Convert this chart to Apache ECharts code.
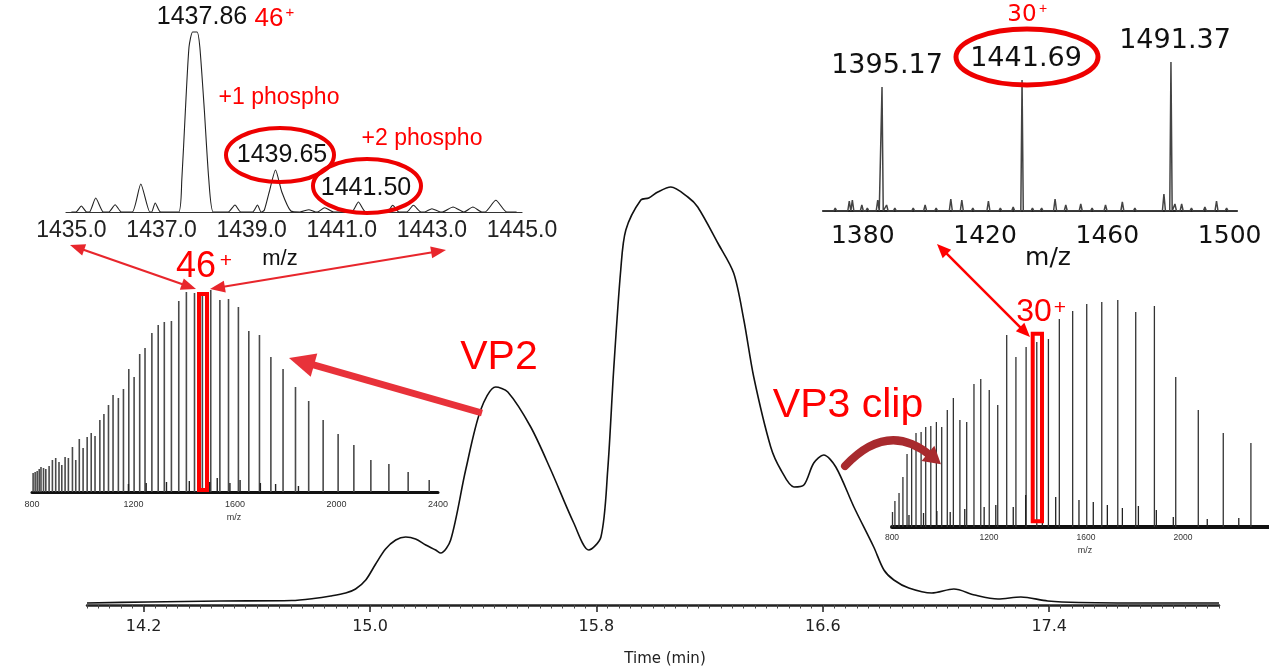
<!DOCTYPE html>
<html><head><meta charset="utf-8">
<script src="https://cdn.jsdelivr.net/npm/echarts@6/dist/echarts.min.js"></script>
<style>html,body{margin:0;padding:0;background:#fff}#c{width:1269px;height:666px}</style>
</head><body><div id="c"></div>
<script>
// ---------- Chromatogram (TIC) ----------
const timeMin = [14.00,14.214,14.472,14.723,14.801,14.861,14.914,14.949,14.985,15.020,15.055,15.091,15.126,15.161,15.197,15.232,15.250,15.285,15.338,15.391,15.444,15.487,15.568,15.639,15.720,15.773,15.816,15.840,15.861,15.886,15.904,15.957,15.985,16.017,16.063,16.123,16.158,16.229,16.285,16.321,16.356,16.416,16.452,16.498,16.533,16.568,16.603,16.646,16.710,16.780,16.816,16.851,16.904,16.985,17.063,17.137,17.219,17.300,17.395,17.505,17.830,18.00];
const ticSignal = [2,3,4,4.5,6.5,9,12,16,25,41,56,65,68,66,60,55,52,65,135,195,218,213,178,135,82,55,68,135,235,335,375,405,407,413,418,408,398,362,332,285,228,158,135,118,120,142,150,138,98,58,35,25,17,12,16,10,6,8,4,2.5,2,2];
const timeTicks = [14.2, 15.0, 15.8, 16.6, 17.4];

// ---------- Zoom of 46+ charge state (profile) ----------
const zoom46Mz = [1435.00,1435.10,1435.22,1435.34,1435.40,1435.54,1435.71,1435.83,1435.97,1436.11,1436.35,1436.54,1436.74,1436.78,1436.86,1436.98,1437.38,1437.45,1437.53,1437.61,1437.69,1437.79,1437.85,1437.95,1438.05,1438.15,1438.48,1438.63,1438.76,1439.02,1439.13,1439.21,1439.28,1439.39,1439.53,1439.67,1439.87,1440.07,1440.27,1440.42,1440.46,1440.62,1440.82,1441.22,1441.37,1441.53,1442.01,1442.13,1442.27,1442.44,1442.59,1442.76,1442.84,1443.00,1443.19,1443.23,1443.47,1443.71,1443.91,1444.11,1444.18,1444.42,1444.66,1444.88];
const zoom46Int = [0,0,6,0,0,14,0,0,7.3,0,0,28,0,0,9,0,0,32,102,165,180,180,165,102,32,0,0,7,0,0,7,0,1.7,20,42,20,1,0,2.3,0,0,4.3,0,0,10,0,0,6.7,0,0,6.7,0,0,3.3,0,0,5,0,5,0,0,11.7,0,0];
const zoom46Ticks = [1435, 1437, 1439, 1441, 1443, 1445];

// ---------- VP2 full mass spectrum ----------
const vp2Mz = [804,812,820,828,835,845,854,867,880,893,906,917,930,943,959,972,986,1001,1017,1033,1048,1067,1083,1101,1119,1140,1160,1181,1202,1224,1245,1272,1297,1321,1349,1378,1408,1440,1471,1504,1540,1574,1613,1654,1696,1741,1789,1838,1890,1947,2006,2068,2135,2206,2282,2365];
const vp2Int = [19,20,21,23,25,24,23,26,32,34,30,27,35,34,45,32,53,44,55,59,56,72,78,87,97,94,103,123,115,138,144,159,167,170,171,191,200,199,200,202,192,193,185,161,157,135,123,105,91,72,58,47,32,28,20,12];
const vp2MinorMz = [1180,1250,1330,1420,1460,1500,1530,1580,1620,1700,1760,1850];
const vp2MinorInt = [8,9,10,11,12,10,14,9,12,9,8,6];

// ---------- VP3 clip full mass spectrum ----------
const vp3Mz = [802,812,829,845,862,881,899,920,939,960,983,1005,1028,1053,1080,1108,1138,1166,1201,1236,1273,1311,1353,1397,1445,1490,1545,1603,1665,1731,1805,1882,1970,2063,2166,2280];
const vp3Int = [15,26,34,50,73,79,94,95,100,101,105,100,117,129,107,105,143,148,137,122,192,170,180,185,188,208,216,223,225,227,215,221,150,117,94,84];
const vp3MinorMz = [870,930,985,1040,1100,1180,1228,1300,1351,1420,1475,1571,1630,1688,1750,1816,1890,1960,2100,2230];
const vp3MinorInt = [12,14,16,15,18,20,22,20,32,24,30,27,25,22,19,21,17,10,8,9];

// ---------- Zoom of 30+ region ----------
const zoom30PeakMz = [1386.3, 1432.1, 1480.8];
const zoom30PeakInt = [124, 131, 149];
const zoom30NoiseMz = [1368.5,1371.0,1373.2,1375.6,1376.6,1379.7,1381.5,1384.9,1387.8,1390.5,1393.0,1396.5,1400.4,1404.0,1408.8,1412.4,1416.0,1421.1,1425.0,1429.2,1435.5,1438.5,1442.9,1446.4,1451.3,1455.0,1459.4,1464.9,1469.0,1473.5,1478.5,1482.1,1484.3,1487.5,1491.9,1495.7,1499.0];
const zoom30NoiseInt = [2,3,2,10,11,6,3,11,6,3,2,3,6,3,12,11,3,10,3,4,3,3,12,6,7,3,6,9,3,2,17,7,7,3,4,10,3];
const zoom30Ticks = [1380, 1420, 1460, 1500];

// ---------- build series data ----------
const zip = (a, b) => a.map((v, i) => [v, b[i]]);
function sticks(groups, min, max) {
  const pts = [];
  groups.forEach(g => g.mz.forEach((m, i) => pts.push([m, g.int[i], g.hw])));
  pts.sort((a, b) => a[0] - b[0]);
  const out = [[min, 0]];
  pts.forEach(p => { out.push([p[0] - p[2], 0], [p[0], p[1]], [p[0] + p[2], 0]); });
  out.push([max, 0]);
  return out;
}
const zoom30Data = sticks([
  {mz: zoom30PeakMz, int: zoom30PeakInt, hw: 0.4},
  {mz: zoom30NoiseMz, int: zoom30NoiseInt, hw: 0.5}
], 1367, 1502.4);

// ---------- annotations ----------
const RED = '#ff0000';
function txt(x, y, s, font, color) {
  return {type: 'text', x: x, y: y, z: 100, silent: true,
    style: {text: s, font: font, fill: color, align: 'center', verticalAlign: 'middle',
            textAlign: 'center', textVerticalAlign: 'middle'}};
}
function arrow(x1, y1, x2, y2, w, hl, hw, color, both) {
  const dx = x2 - x1, dy = y2 - y1, L = Math.hypot(dx, dy), ux = dx / L, uy = dy / L;
  const head = (tx, ty, ax, ay) => ({type: 'polygon', z: 100, silent: true,
    shape: {points: [[tx, ty], [tx - ax * hl - ay * hw, ty - ay * hl + ax * hw], [tx - ax * hl + ay * hw, ty - ay * hl - ax * hw]]},
    style: {fill: color}});
  const sx = both ? x1 + ux * hl * 0.7 : x1, sy = both ? y1 + uy * hl * 0.7 : y1;
  const els = [{type: 'line', z: 100, silent: true,
    shape: {x1: sx, y1: sy, x2: x2 - ux * hl * 0.7, y2: y2 - uy * hl * 0.7},
    style: {stroke: color, lineWidth: w}}, head(x2, y2, ux, uy)];
  if (both) els.push(head(x1, y1, -ux, -uy));
  return els;
}
const ell = (cx, cy, rx, ry, w) => ({type: 'ellipse', z: 100, silent: true,
  shape: {cx, cy, rx, ry}, style: {fill: null, stroke: '#ee0000', lineWidth: w}});
const box = (x, y, w, h) => ({type: 'rect', z: 100, silent: true,
  shape: {x, y, width: w, height: h}, style: {fill: null, stroke: RED, lineWidth: 4}});

const AR = '"Liberation Sans", Arial, sans-serif';
const DV = '"DejaVu Sans", sans-serif';
// curved arrow (VP3 clip)
const cP0 = [845, 466], cP1 = [888, 420], cP2 = [931, 456];
const cdx = cP2[0] - cP1[0], cdy = cP2[1] - cP1[1], cL = Math.hypot(cdx, cdy);
const cux = cdx / cL, cuy = cdy / cL;
const cTip = [cP2[0] + cux * 13, cP2[1] + cuy * 13];

const graphics = [
  // top-left zoom labels
  txt(202, 17, '1437.86', '25px ' + AR, '#111'),
  txt(269, 19, '46', '26px ' + AR, RED),
  txt(290, 13, '+', '15px ' + AR, RED),
  txt(279, 98, '+1 phospho', '23px ' + AR, RED),
  txt(422, 139, '+2 phospho', '23px ' + AR, RED),
  txt(282, 155, '1439.65', '25px ' + AR, '#111'),
  txt(366, 188, '1441.50', '25px ' + AR, '#111'),
  ell(280, 155, 54, 27, 4),
  ell(367, 186, 54, 27, 4),
  txt(280, 259, 'm/z', '22px ' + AR, '#111'),
  // left big 46+
  txt(196, 267, '46', '36px ' + AR, RED),
  txt(226, 261, '+', '21px ' + AR, RED),
  box(199, 294, 8, 196),
  ...arrow(196, 289, 70, 245, 2.2, 15, 6, '#e8262c', true),
  ...arrow(210, 289, 446, 250, 2.2, 15, 6, '#e8262c', true),
  txt(234, 518, 'm/z', '9px ' + AR, '#333'),
  // VP2
  txt(499, 358, 'VP2', '41px ' + AR, RED),
  ...arrow(482, 413, 289, 358, 7, 26, 12, '#e8323a', false),
  // VP3 clip
  txt(848, 406, 'VP3 clip', '41px ' + AR, RED),
  {type: 'bezierCurve', z: 100, silent: true,
   shape: {x1: cP0[0], y1: cP0[1], x2: cP2[0], y2: cP2[1], cpx1: cP1[0], cpy1: cP1[1]},
   style: {stroke: '#a82a2e', lineWidth: 8, fill: null, lineCap: 'round'}},
  {type: 'polygon', z: 100, silent: true,
   shape: {points: [cTip, [cP2[0] - cuy * 10 - cux * 4, cP2[1] + cux * 10 - cuy * 4], [cP2[0] + cuy * 10 - cux * 4, cP2[1] - cux * 10 - cuy * 4]]},
   style: {fill: '#a82a2e'}},
  // top-right zoom
  txt(1022, 15, '30', '23px ' + DV, RED),
  txt(1043, 9, '+', '14px ' + AR, RED),
  txt(887, 66, '1395.17', '27px ' + DV, '#111'),
  txt(1026, 59, '1441.69', '27px ' + DV, '#111'),
  txt(1175, 41, '1491.37', '27px ' + DV, '#111'),
  ell(1027, 57, 71, 28, 5),
  txt(1048, 258, 'm/z', '25px ' + DV, '#111'),
  // right spectrum
  txt(1034, 312, '30', '32px ' + AR, RED),
  txt(1060, 308, '+', '21px ' + AR, RED),
  box(1032.7, 333.7, 9.3, 187.6),
  ...arrow(937, 244, 1030, 337, 2.5, 14, 6, RED, true),
  txt(1085, 551, 'm/z', '9px ' + AR, '#333'),
  // main axis title
  txt(665, 659, 'Time (min)', '15px ' + DV, '#222')
];

const plain = v => String(v);
const hiddenY = (g, max) => ({type: 'value', gridIndex: g, min: 0, max: max, show: false});
const option = {
  animation: false,
  backgroundColor: '#fff',
  grid: [
    {left: 87, right: 50, top: 185, bottom: 61, outerBoundsMode: 'none'},
    {left: 66, right: 1269 - 522, top: 22, bottom: 666 - 212, outerBoundsMode: 'none'},
    {left: 823, right: 32, top: 61, bottom: 666 - 211, outerBoundsMode: 'none'},
    {left: 32, right: 1269 - 438, top: 282, bottom: 666 - 492, outerBoundsMode: 'none'},
    {left: 892, right: 0, top: 297, bottom: 666 - 527, outerBoundsMode: 'none'}
  ],
  xAxis: [
    {type: 'value', gridIndex: 0, min: 14, max: 18, position: 'bottom',
     axisLine: {lineStyle: {color: '#222', width: 2.5}},
     axisTick: {customValues: timeTicks, length: 7, lineStyle: {color: '#222', width: 1.5}},
     axisLabel: {customValues: timeTicks, formatter: v => v.toFixed(1), fontFamily: 'DejaVu Sans', fontSize: 16, color: '#222', margin: 14},
     splitLine: {show: false}},
    {type: 'value', gridIndex: 0, min: 14, max: 18, interval: 0.04, position: 'bottom', offset: 0,
     axisLine: {show: false}, axisLabel: {show: false}, splitLine: {show: false},
     axisTick: {length: 3.5, lineStyle: {color: '#444', width: 1}}},
    {type: 'value', gridIndex: 1, min: 1434.88, max: 1445,
     axisLine: {lineStyle: {color: '#333', width: 1.2}}, axisTick: {show: false},
     axisLabel: {customValues: zoom46Ticks, formatter: v => v.toFixed(1), fontFamily: 'Liberation Sans', fontSize: 23, color: '#222', margin: 7},
     splitLine: {show: false}},
    {type: 'value', gridIndex: 2, min: 1367, max: 1502.4,
     axisLine: {lineStyle: {color: '#222', width: 2}}, axisTick: {show: false},
     axisLabel: {customValues: zoom30Ticks, formatter: plain, fontFamily: 'DejaVu Sans', fontSize: 25, color: '#111', margin: 13},
     splitLine: {show: false}},
    {type: 'value', gridIndex: 3, min: 800, max: 2400, interval: 400,
     axisLine: {lineStyle: {color: '#111', width: 3}}, axisTick: {show: false},
     axisLabel: {formatter: plain, fontFamily: 'Liberation Sans', fontSize: 9, color: '#333', margin: 8},
     splitLine: {show: false}},
    {type: 'value', gridIndex: 4, min: 800, max: 2354.6, interval: 400,
     axisLine: {lineStyle: {color: '#111', width: 4}}, axisTick: {show: false},
     axisLabel: {formatter: plain, fontFamily: 'Liberation Sans', fontSize: 8.5, color: '#333', margin: 6, showMaxLabel: false},
     splitLine: {show: false}}
  ],
  yAxis: [hiddenY(0, 420), hiddenY(1, 190), hiddenY(2, 150), hiddenY(3, 210), hiddenY(4, 230)],
  series: [
    {type: 'line', xAxisIndex: 0, yAxisIndex: 0, data: zip(timeMin, ticSignal), smooth: 0.3,
     symbol: 'none', lineStyle: {color: '#111', width: 1.6}},
    {type: 'line', xAxisIndex: 2, yAxisIndex: 1, data: zip(zoom46Mz, zoom46Int), smooth: 0.2,
     symbol: 'none', lineStyle: {color: '#222', width: 1.1}},
    {type: 'line', xAxisIndex: 3, yAxisIndex: 2, data: zoom30Data,
     symbol: 'none', lineStyle: {color: '#444', width: 1.5}},
    {type: 'bar', xAxisIndex: 4, yAxisIndex: 3, data: zip(vp2Mz, vp2Int), barWidth: 1.6, barGap: '-100%',
     itemStyle: {color: '#4a4a4a'}},
    {type: 'bar', xAxisIndex: 4, yAxisIndex: 3, data: zip(vp2MinorMz, vp2MinorInt), barWidth: 1.4, barGap: '-100%',
     itemStyle: {color: '#222'}},
    {type: 'bar', xAxisIndex: 5, yAxisIndex: 4, data: zip(vp3Mz, vp3Int), barWidth: 1.3, barGap: '-100%',
     itemStyle: {color: '#333'}},
    {type: 'bar', xAxisIndex: 5, yAxisIndex: 4, data: zip(vp3MinorMz, vp3MinorInt), barWidth: 1.3, barGap: '-100%',
     itemStyle: {color: '#222'}}
  ],
  graphic: {elements: graphics}
};
const chart = echarts.init(document.getElementById('c'), null, {renderer: 'canvas'});
chart.setOption(option);
</script>
</body></html>
